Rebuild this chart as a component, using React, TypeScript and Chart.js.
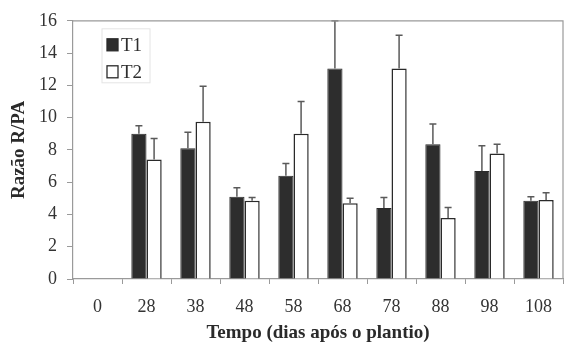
import React, { useEffect, useRef } from "react";
import { Chart, registerables } from "chart.js";

Chart.register(...registerables);

const categories = ["0", "28", "38", "48", "58", "68", "78", "88", "98", "108"];
const t1Values = [0, 9.0, 8.1, 5.1, 6.4, 13.05, 4.4, 8.35, 6.7, 4.85];
const t1Errors = [0, 0.5, 1.0, 0.55, 0.75, 2.95, 0.65, 1.25, 1.55, 0.25];
const t2Values = [0, 7.4, 9.75, 4.85, 9.0, 4.7, 13.05, 3.78, 7.78, 4.9];
const t2Errors = [0, 1.3, 2.2, 0.2, 2.0, 0.3, 2.05, 0.65, 0.57, 0.45];
const yTicks = [0, 2, 4, 6, 8, 10, 12, 14, 16];

const SERIF = "'Liberation Serif', 'DejaVu Serif', serif";

const errorBarPlugin = {
  id: "errorBars",
  afterDatasetsDraw(chart: any) {
    const ctx = chart.ctx;
    const yScale = chart.scales.y;
    const errs = [t1Errors, t2Errors];
    ctx.save();
    ctx.strokeStyle = "#5a5a5a";
    ctx.lineWidth = 1.5;
    chart.data.datasets.forEach((ds: any, di: number) => {
      const meta = chart.getDatasetMeta(di);
      meta.data.forEach((el: any, i: number) => {
        const e = errs[di][i];
        if (!e) return;
        const v = ds.data[i];
        const x = el.x;
        const y0 = yScale.getPixelForValue(v);
        const y1 = yScale.getPixelForValue(v + e);
        ctx.beginPath();
        ctx.moveTo(x, y0);
        ctx.lineTo(x, y1);
        ctx.moveTo(x - 3.5, y1);
        ctx.lineTo(x + 3.5, y1);
        ctx.stroke();
      });
    });
    ctx.restore();
  },
};

const framePlugin = {
  id: "frameAndLegend",
  afterDraw(chart: any) {
    const ctx = chart.ctx;
    const a = chart.chartArea;
    ctx.save();
    ctx.strokeStyle = "#9a9a9a";
    ctx.lineWidth = 1.2;
    ctx.beginPath();
    ctx.moveTo(a.left, a.top);
    ctx.lineTo(a.right, a.top);
    ctx.lineTo(a.right, a.bottom);
    ctx.stroke();

    // legend box
    const lx = a.left + 29;
    const ly = a.top + 8;
    ctx.strokeStyle = "#e4e4e4";
    ctx.lineWidth = 1;
    ctx.strokeRect(lx, ly, 48, 54);
    ctx.font = `19px ${SERIF}`;
    ctx.textBaseline = "middle";
    chart.data.datasets.forEach((ds: any, i: number) => {
      const cy = ly + 16 + i * 27;
      ctx.fillStyle = ds.backgroundColor;
      ctx.fillRect(lx + 5, cy - 6, 11, 12);
      ctx.strokeStyle = "#2a2a2a";
      ctx.lineWidth = 1.3;
      ctx.strokeRect(lx + 5, cy - 6, 11, 12);
      ctx.fillStyle = "#2e2e2e";
      ctx.fillText(ds.label, lx + 19, cy + 1);
    });
    ctx.restore();
  },
};

export default function App() {
  const ref = useRef<HTMLCanvasElement>(null);
  useEffect(() => {
    document.body.style.margin = "0";
    const chart = new Chart(ref.current as HTMLCanvasElement, {
      type: "bar",
      data: {
        labels: categories,
        datasets: [
          {
            label: "T1",
            data: t1Values,
            backgroundColor: "#2d2d2d",
            borderColor: "#2a2a2a",
            borderWidth: 1,
            categoryPercentage: 0.62,
            barPercentage: 1,
          },
          {
            label: "T2",
            data: t2Values,
            backgroundColor: "#ffffff",
            borderColor: "#2a2a2a",
            borderWidth: 1.5,
            categoryPercentage: 0.62,
            barPercentage: 1,
          },
        ],
      },
      options: {
        animation: false,
        responsive: false,
        layout: { padding: { top: 15, right: 7, left: 0, bottom: 0 } },
        plugins: { legend: { display: false }, tooltip: { enabled: false } },
        scales: {
          x: {
            afterFit: (s: any) => {
              s.height = 67;
            },
            grid: { drawOnChartArea: false, tickLength: 5, color: "#9a9a9a", offset: true },
            border: { color: "#9a9a9a", width: 1.2 },
            ticks: {
              color: "#333",
              padding: 12,
              font: { family: SERIF, size: 18 },
            },
            title: {
              display: true,
              text: "Tempo (dias após o plantio)",
              color: "#2a2a2a",
              font: { family: SERIF, size: 19, weight: "bold" },
              padding: { top: 0, bottom: 2 },
            },
          },
          y: {
            min: 0,
            max: 16,
            afterFit: (s: any) => {
              s.width = 73;
            },
            afterBuildTicks: (s: any) => {
              s.ticks = yTicks.map((v) => ({ value: v }));
            },
            grid: { drawOnChartArea: false, tickLength: 6, color: "#9a9a9a" },
            border: { color: "#9a9a9a", width: 1.2 },
            ticks: {
              color: "#333",
              padding: 10,
              font: { family: SERIF, size: 18 },
            },
            title: {
              display: true,
              text: "Razão R/PA",
              color: "#2a2a2a",
              font: { family: SERIF, size: 19, weight: "bold" },
              padding: { top: 8, bottom: 0 },
            },
          },
        },
      },
      plugins: [errorBarPlugin, framePlugin],
    } as any);
    return () => chart.destroy();
  }, []);
  return (
    <div style={{ width: 570, height: 346 }}>
      <canvas ref={ref} width={570} height={346} />
    </div>
  );
}
